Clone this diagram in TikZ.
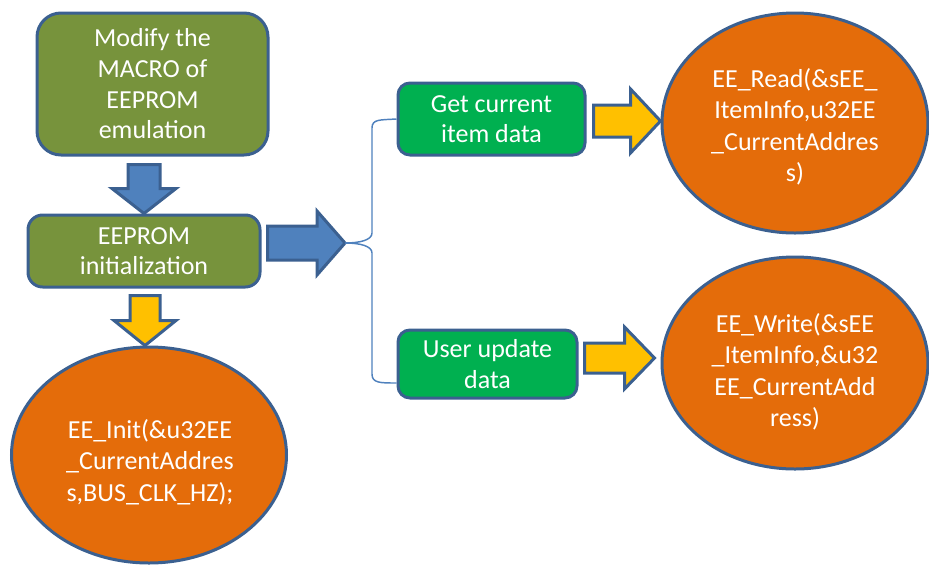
\documentclass[tikz,border=0pt]{standalone}
\usepackage{fontspec}
\setmainfont{Carlito}
\usetikzlibrary{shapes.geometric,calc}
\definecolor{cOlive}{HTML}{77933C}
\definecolor{cEdge}{HTML}{3B6090}
\definecolor{cBlue}{HTML}{4F81BD}
\definecolor{cGreen}{HTML}{00B050}
\definecolor{cOrange}{HTML}{E46C0A}
\definecolor{cYellow}{HTML}{FFC000}
\newcommand\DownBlockArrow[6]{%
  \draw[#1] let \p1=#2, \p2=#3 in
    (\x1-#4,\y1) -- (\x1+#4,\y1) -- (\x1+#4,\y2+#6) -- (\x1+#5,\y2+#6)
    -- (\x1,\y2) -- (\x1-#5,\y2+#6) -- (\x1-#4,\y2+#6) -- cycle;}
\newcommand\RightBlockArrow[6]{%
  \draw[#1] let \p1=#2, \p2=#3 in
    (\x1,\y1-#4) -- (\x2-#6,\y1-#4) -- (\x2-#6,\y1-#5)
    -- (\x2,\y1) -- (\x2-#6,\y1+#5) -- (\x2-#6,\y1+#4) -- (\x1,\y1+#4) -- cycle;}
\begin{document}
\begin{tikzpicture}[x=0.75pt,y=-0.75pt,
  box/.style={draw=cEdge, line width=2.25pt, text=white, align=center,
    font=\fontsize{19.5}{23}\selectfont, inner sep=0pt},
  oval/.style={ellipse, draw=cEdge, line width=2.25pt, fill=cOrange, inner sep=0pt},
  ovaltext/.style={text=white, align=center, font=\fontsize{19.5}{23.6}\selectfont, inner sep=0pt},
  bluearrow/.style={fill=cBlue, draw=cEdge, line width=2.25pt, line join=miter},
  yellowarrow/.style={fill=cYellow, draw=cEdge, line width=2.25pt, line join=miter},
  brace/.style={draw=cBlue, line width=1.1pt}]
\useasboundingbox (0,0) rectangle (929,565);

\node[box, fill=cOlive, rounded corners=18pt, minimum width=173.25pt, minimum height=106.5pt]
  (m) at (152.5,84) {Modify the\\MACRO of\\EEPROM\\emulation};
\node[box, fill=cOlive, rounded corners=11pt, minimum width=174pt, minimum height=54pt]
  (i) at (144,251) {EEPROM\\initialization};
\node[box, fill=cGreen, rounded corners=9pt, minimum width=140.25pt, minimum height=54pt]
  (g) at (491.5,119) {Get current\\item data};
\node[box, fill=cGreen, rounded corners=9pt, minimum width=134.25pt, minimum height=51pt]
  (u) at (487.5,364) {User update\\data};

\node[oval, minimum width=206.25pt, minimum height=162pt] (init) at (149,455) {};
\node[ovaltext] (initt) at (150,462) {EE\_Init(\&u32EE\\\_CurrentAddres\\s,BUS\_CLK\_HZ);};
\node[oval, minimum width=199.5pt, minimum height=165pt] (r) at (795,123) {};
\node[ovaltext] (rt) at (795,127) {EE\_Read(\&sEE\_\\ItemInfo,u32EE\\\_CurrentAddres\\s)};
\node[oval, minimum width=199.5pt, minimum height=159pt] (w) at (795,363) {};
\node[ovaltext] (wt) at (795,372) {EE\_Write(\&sEE\\\_ItemInfo,\&u32\\EE\_CurrentAdd\\ress)};

\coordinate (bt) at (345,243);

\DownBlockArrow{bluearrow}{($(i.north|-m.south)+(0,8)$)}{(i.north)}{12pt}{24pt}{18.75pt}
\DownBlockArrow{yellowarrow}{($(i.south)+(1,7)$)}{(init.north)}{11.25pt}{23.25pt}{18.75pt}
\RightBlockArrow{bluearrow}{($(i.east|-bt)+(6,0)$)}{(bt)}{12.75pt}{24pt}{21pt}
\RightBlockArrow{yellowarrow}{($(g.east)+(7,2)$)}{(r.west)}{12pt}{24pt}{22.5pt}
\RightBlockArrow{yellowarrow}{($(u.east)+(6,-6)$)}{($(w.west)+(-6,0)$)}{11.25pt}{23.25pt}{22.5pt}

\draw[brace] (g.west) .. controls (380,120) and (372,119) .. (372,128) -- (372,233)
  .. controls (372,240) and (360,243) .. (bt)
  .. controls (360,243) and (372,246) .. (372,253) -- (372,374)
  .. controls (372,383) and (380,383) .. ($(u.west)+(0,19)$);
\end{tikzpicture}
\end{document}
